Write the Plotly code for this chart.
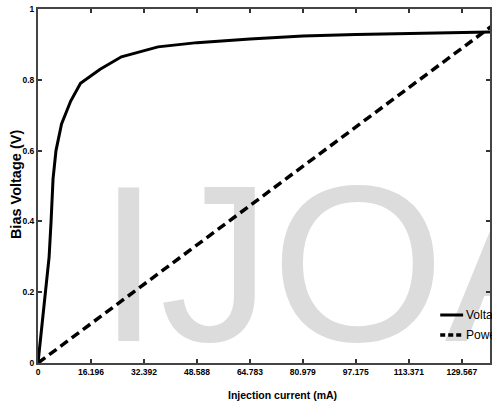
import plotly.graph_objects as go

# ---- data ----
current_ma = [0, 1.2, 2.4, 3.4, 4.0, 4.6, 5.5, 7.2, 10.0, 13.0, 19.0, 25.5,
              36.7, 48.6, 64.8, 81.0, 97.2, 113.4, 129.6, 145.8]
voltage_v = [0, 0.10, 0.20, 0.30, 0.40, 0.52, 0.60, 0.675, 0.74, 0.79, 0.83, 0.865,
             0.893, 0.905, 0.915, 0.924, 0.928, 0.930, 0.933, 0.936]
power_x = [0, 145.764]
power_y = [0, 1.0]

x_tickvals = [0, 16.196, 32.392, 48.588, 64.783, 80.979, 97.175, 113.371, 129.567, 145.764]
x_ticktext = ["0", "16.196", "32.392", "48.588", "64.783", "80.979", "97.175",
              "113.371", "129.567", "145.764"]
y_tickvals = [0, 0.2, 0.4, 0.6, 0.8, 1.0]
y_ticktext = ["0", "0.2", "0.4", "0.6", "0.8", "1"]
series_names = ["Voltage", "Power"]

W, H = 492, 409
ML, MR, MT, MB = 38, 0, 9, 46
PW, PH = W - ML - MR, H - MT - MB

def px(xp):
    return (xp - ML) / PW

def py(yp):
    return (H - MB - yp) / PH

FONT = "Liberation Sans Narrow, Arial Narrow, Liberation Sans, Arial"

fig = go.Figure()

# watermark (drawn first so that lines sit on top)
fig.add_trace(go.Scatter(
    x=[18.3], y=[0.221], mode="text", text=["IJOA"], textposition="middle right",
    textfont=dict(family="Liberation Sans, Arial", size=223, color="#dcdcdc"),
    hoverinfo="skip", showlegend=False, cliponaxis=False))

fig.add_trace(go.Scatter(
    x=current_ma, y=voltage_v, mode="lines", name=series_names[0],
    line=dict(color="black", width=3), showlegend=False))
fig.add_trace(go.Scatter(
    x=power_x, y=power_y, mode="lines", name=series_names[1],
    line=dict(color="black", width=3.5, dash="9px,5px"), showlegend=False))

# manual legend (cropped at the right edge like the reference)
for i, (nm, dash, yp) in enumerate([(series_names[0], "solid", 315), (series_names[1], "5px,3px", 335)]):
    fig.add_shape(type="line", xref="paper", yref="paper",
                  x0=px(442), x1=px(465), y0=py(yp), y1=py(yp),
                  line=dict(color="black", width=3 if i == 0 else 3.5, dash=dash))
    fig.add_annotation(text=nm, xref="paper", yref="paper", x=px(466), y=py(yp),
                       xanchor="left", yanchor="middle", showarrow=False,
                       font=dict(family=FONT, size=12, color="black"))

fig.add_annotation(text="<b>Injection current (mA)</b>", xref="paper", yref="paper",
                   x=px(284), y=py(395), xanchor="center", yanchor="middle",
                   showarrow=False, font=dict(family=FONT, size=10.5, color="black"))
fig.add_annotation(text="<b>Bias Voltage (V)</b>", xref="paper", yref="paper",
                   x=px(16), y=py(185), xanchor="center", yanchor="middle",
                   textangle=-90, showarrow=False,
                   font=dict(family=FONT, size=14.5, color="black"))

fig.update_xaxes(range=[0, 138.2], tickvals=x_tickvals, ticktext=x_ticktext,
                 ticks="inside", ticklen=4, tickwidth=1.5, tickcolor="#333",
                 showline=True, linecolor="#444", linewidth=2, mirror="ticks",
                 showgrid=False, zeroline=False,
                 tickfont=dict(family=FONT, size=8.5, color="black", weight="bold"))
fig.update_yaxes(range=[0, 1], tickvals=y_tickvals, ticktext=y_ticktext,
                 ticks="inside", ticklen=4, tickwidth=1.5, tickcolor="#333",
                 showline=True, linecolor="#444", linewidth=2, mirror="ticks",
                 showgrid=False, zeroline=False,
                 tickfont=dict(family=FONT, size=8.5, color="black", weight="bold"))

fig.update_layout(width=W, height=H, margin=dict(l=ML, r=MR, t=MT, b=MB),
                  paper_bgcolor="white", plot_bgcolor="white", showlegend=False)

fig.write_html("out.html")
